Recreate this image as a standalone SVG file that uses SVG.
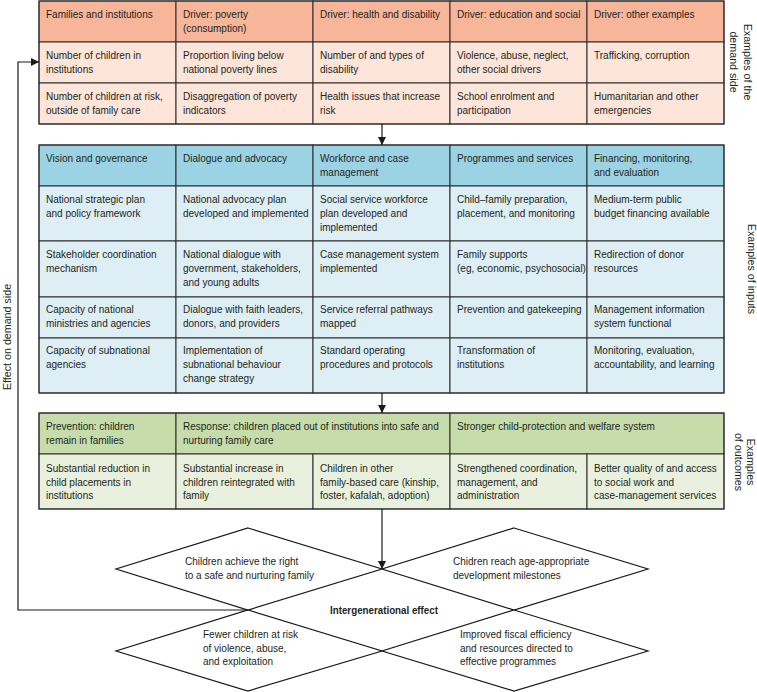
<svg xmlns="http://www.w3.org/2000/svg" width="757" height="692" viewBox="0 0 757 692">
<defs>
<style>
text{font-family:"Liberation Sans",Arial,sans-serif;font-size:10px;fill:#231f20}
.c rect{stroke:#2b2b2b;stroke-width:1}
.h1{fill:#f7b69a}.r1{fill:#fde5da}
.h2{fill:#9bd3e4}.r2{fill:#ddeef5}
.h3{fill:#c6ddab}.r3{fill:#e9f1de}
.frame{fill:none;stroke:#444;stroke-width:1.5}
.ln{fill:none;stroke:#1a1a1a;stroke-width:1.2}
.dm{fill:#fff;stroke:#1a1a1a;stroke-width:1.2}
.side{font-size:10.7px}
</style>
<marker id="ah" viewBox="0 0 10 10" refX="10" refY="5" markerWidth="8" markerHeight="8" markerUnits="userSpaceOnUse" orient="auto"><path d="M0,0L10,5L0,10z" fill="#1a1a1a"/></marker>
</defs>
<rect width="757" height="692" fill="#fff"/>

<!-- Demand side table -->
<g id="demand" class="c">
<g id="d-h1"><rect class="h1" x="39" y="1" width="137" height="41"/><text x="46" y="18">Families and institutions</text></g>
<g id="d-h2"><rect class="h1" x="176" y="1" width="137" height="41"/><text x="183" y="18">Driver: poverty<tspan x="183" dy="14">(consumption)</tspan></text></g>
<g id="d-h3"><rect class="h1" x="313" y="1" width="137" height="41"/><text x="320" y="18">Driver: health and disability</text></g>
<g id="d-h4"><rect class="h1" x="450" y="1" width="137" height="41"/><text x="457" y="18">Driver: education and social</text></g>
<g id="d-h5"><rect class="h1" x="587" y="1" width="137" height="41"/><text x="594" y="18">Driver: other examples</text></g>
<g id="d-11"><rect class="r1" x="39" y="42" width="137" height="41"/><text x="46" y="59">Number of children in<tspan x="46" dy="14">institutions</tspan></text></g>
<g id="d-12"><rect class="r1" x="176" y="42" width="137" height="41"/><text x="183" y="59">Proportion living below<tspan x="183" dy="14">national poverty lines</tspan></text></g>
<g id="d-13"><rect class="r1" x="313" y="42" width="137" height="41"/><text x="320" y="59">Number of and types of<tspan x="320" dy="14">disability</tspan></text></g>
<g id="d-14"><rect class="r1" x="450" y="42" width="137" height="41"/><text x="457" y="59">Violence, abuse, neglect,<tspan x="457" dy="14">other social drivers</tspan></text></g>
<g id="d-15"><rect class="r1" x="587" y="42" width="137" height="41"/><text x="594" y="59">Trafficking, corruption</text></g>
<g id="d-21"><rect class="r1" x="39" y="83" width="137" height="41"/><text x="46" y="100">Number of children at risk,<tspan x="46" dy="14">outside of family care</tspan></text></g>
<g id="d-22"><rect class="r1" x="176" y="83" width="137" height="41"/><text x="183" y="100">Disaggregation of poverty<tspan x="183" dy="14">indicators</tspan></text></g>
<g id="d-23"><rect class="r1" x="313" y="83" width="137" height="41"/><text x="320" y="100">Health issues that increase<tspan x="320" dy="14">risk</tspan></text></g>
<g id="d-24"><rect class="r1" x="450" y="83" width="137" height="41"/><text x="457" y="100">School enrolment and<tspan x="457" dy="14">participation</tspan></text></g>
<g id="d-25"><rect class="r1" x="587" y="83" width="137" height="41"/><text x="594" y="100">Humanitarian and other<tspan x="594" dy="14">emergencies</tspan></text></g>
<rect class="frame" x="39" y="1" width="685" height="123"/>
</g>

<!-- Inputs table -->
<g id="inputs" class="c">
<g id="i-h1"><rect class="h2" x="39" y="145" width="137" height="41"/><text x="46" y="162">Vision and governance</text></g>
<g id="i-h2"><rect class="h2" x="176" y="145" width="137" height="41"/><text x="183" y="162">Dialogue and advocacy</text></g>
<g id="i-h3"><rect class="h2" x="313" y="145" width="137" height="41"/><text x="320" y="162">Workforce and case<tspan x="320" dy="14">management</tspan></text></g>
<g id="i-h4"><rect class="h2" x="450" y="145" width="137" height="41"/><text x="457" y="162">Programmes and services</text></g>
<g id="i-h5"><rect class="h2" x="587" y="145" width="137" height="41"/><text x="594" y="162">Financing, monitoring,<tspan x="594" dy="14">and evaluation</tspan></text></g>

<g id="i-11"><rect class="r2" x="39" y="186" width="137" height="55"/><text x="46" y="203">National strategic plan<tspan x="46" dy="14">and policy framework</tspan></text></g>
<g id="i-12"><rect class="r2" x="176" y="186" width="137" height="55"/><text x="183" y="203">National advocacy plan<tspan x="183" dy="14">developed and implemented</tspan></text></g>
<g id="i-13"><rect class="r2" x="313" y="186" width="137" height="55"/><text x="320" y="203">Social service workforce<tspan x="320" dy="14">plan developed and</tspan><tspan x="320" dy="14">implemented</tspan></text></g>
<g id="i-14"><rect class="r2" x="450" y="186" width="137" height="55"/><text x="457" y="203">Child–family preparation,<tspan x="457" dy="14">placement, and monitoring</tspan></text></g>
<g id="i-15"><rect class="r2" x="587" y="186" width="137" height="55"/><text x="594" y="203">Medium-term public<tspan x="594" dy="14">budget financing available</tspan></text></g>

<g id="i-21"><rect class="r2" x="39" y="241" width="137" height="56"/><text x="46" y="258">Stakeholder coordination<tspan x="46" dy="14">mechanism</tspan></text></g>
<g id="i-22"><rect class="r2" x="176" y="241" width="137" height="56"/><text x="183" y="258">National dialogue with<tspan x="183" dy="14">government, stakeholders,</tspan><tspan x="183" dy="14">and young adults</tspan></text></g>
<g id="i-23"><rect class="r2" x="313" y="241" width="137" height="56"/><text x="320" y="258">Case management system<tspan x="320" dy="14">implemented</tspan></text></g>
<g id="i-24"><rect class="r2" x="450" y="241" width="137" height="56"/><text x="457" y="258">Family supports<tspan x="457" dy="14">(eg, economic, psychosocial)</tspan></text></g>
<g id="i-25"><rect class="r2" x="587" y="241" width="137" height="56"/><text x="594" y="258">Redirection of donor<tspan x="594" dy="14">resources</tspan></text></g>

<g id="i-31"><rect class="r2" x="39" y="297" width="137" height="41"/><text x="46" y="313">Capacity of national<tspan x="46" dy="14">ministries and agencies</tspan></text></g>
<g id="i-32"><rect class="r2" x="176" y="297" width="137" height="41"/><text x="183" y="313">Dialogue with faith leaders,<tspan x="183" dy="14">donors, and providers</tspan></text></g>
<g id="i-33"><rect class="r2" x="313" y="297" width="137" height="41"/><text x="320" y="313">Service referral pathways<tspan x="320" dy="14">mapped</tspan></text></g>
<g id="i-34"><rect class="r2" x="450" y="297" width="137" height="41"/><text x="457" y="313">Prevention and gatekeeping</text></g>
<g id="i-35"><rect class="r2" x="587" y="297" width="137" height="41"/><text x="594" y="313">Management information<tspan x="594" dy="14">system functional</tspan></text></g>

<g id="i-41"><rect class="r2" x="39" y="338" width="137" height="55"/><text x="46" y="354">Capacity of subnational<tspan x="46" dy="14">agencies</tspan></text></g>
<g id="i-42"><rect class="r2" x="176" y="338" width="137" height="55"/><text x="183" y="354">Implementation of<tspan x="183" dy="14">subnational behaviour</tspan><tspan x="183" dy="14">change strategy</tspan></text></g>
<g id="i-43"><rect class="r2" x="313" y="338" width="137" height="55"/><text x="320" y="354">Standard operating<tspan x="320" dy="14">procedures and protocols</tspan></text></g>
<g id="i-44"><rect class="r2" x="450" y="338" width="137" height="55"/><text x="457" y="354">Transformation of<tspan x="457" dy="14">institutions</tspan></text></g>
<g id="i-45"><rect class="r2" x="587" y="338" width="137" height="55"/><text x="594" y="354">Monitoring, evaluation,<tspan x="594" dy="14">accountability, and learning</tspan></text></g>
<rect class="frame" x="39" y="145" width="685" height="248"/>
</g>

<!-- Outcomes table -->
<g id="outcomes" class="c">
<g id="o-h1"><rect class="h3" x="39" y="413" width="137" height="41"/><text x="46" y="430">Prevention: children<tspan x="46" dy="14">remain in families</tspan></text></g>
<g id="o-h2"><rect class="h3" x="176" y="413" width="274" height="41"/><text x="183" y="430">Response: children placed out of institutions into safe and<tspan x="183" dy="14">nurturing family care</tspan></text></g>
<g id="o-h3"><rect class="h3" x="450" y="413" width="274" height="41"/><text x="457" y="430">Stronger child-protection and welfare system</text></g>
<g id="o-11"><rect class="r3" x="39" y="454" width="137" height="55"/><text x="46" y="472">Substantial reduction in<tspan x="46" dy="13.5">child placements in</tspan><tspan x="46" dy="13.5">institutions</tspan></text></g>
<g id="o-12"><rect class="r3" x="176" y="454" width="137" height="55"/><text x="183" y="472">Substantial increase in<tspan x="183" dy="13.5">children reintegrated with</tspan><tspan x="183" dy="13.5">family</tspan></text></g>
<g id="o-13"><rect class="r3" x="313" y="454" width="137" height="55"/><text x="320" y="472">Children in other<tspan x="320" dy="13.5">family-based care (kinship,</tspan><tspan x="320" dy="13.5">foster, kafalah, adoption)</tspan></text></g>
<g id="o-14"><rect class="r3" x="450" y="454" width="137" height="55"/><text x="457" y="472">Strengthened coordination,<tspan x="457" dy="13.5">management, and</tspan><tspan x="457" dy="13.5">administration</tspan></text></g>
<g id="o-15"><rect class="r3" x="587" y="454" width="137" height="55"/><text x="594" y="472">Better quality of and access<tspan x="594" dy="13.5">to social work and</tspan><tspan x="594" dy="13.5">case-management services</tspan></text></g>
<rect class="frame" x="39" y="413" width="685" height="96"/>
</g>

<!-- Diamonds -->
<g id="dia1"><path class="dm" d="M248,528L382,569L248,610L116,569Z"/><text x="185" y="565">Children achieve the right<tspan x="185" dy="13.5">to a safe and nurturing family</tspan></text></g>
<g id="dia2"><path class="dm" d="M514,528L648,569L514,610L382,569Z"/><text x="453" y="565">Chidren reach age-appropriate<tspan x="453" dy="13.5">development milestones</tspan></text></g>
<g id="dia3"><path class="dm" d="M248,610L382,651L248,691L116,651Z"/><text x="203" y="638">Fewer children at risk<tspan x="203" dy="13.5">of violence, abuse,</tspan><tspan x="203" dy="13.5">and exploitation</tspan></text></g>
<g id="dia4"><path class="dm" d="M514,610L648,651L514,691L382,651Z"/><text x="460" y="638">Improved fiscal efficiency<tspan x="460" dy="13.5">and resources directed to</tspan><tspan x="460" dy="13.5">effective programmes</tspan></text></g>
<g id="center"><text x="384" y="614" text-anchor="middle" font-weight="bold" textLength="108" lengthAdjust="spacingAndGlyphs">Intergenerational effect</text></g>

<!-- Connectors -->
<g id="connectors">
<path class="ln" d="M382,124V145" marker-end="url(#ah)"/>
<path class="ln" d="M382,393V413" marker-end="url(#ah)"/>
<path class="ln" d="M382,509V569" marker-end="url(#ah)"/>
<path class="ln" d="M248,610H18V62H39" marker-end="url(#ah)"/>
</g>

<!-- Side labels -->
<g id="labels">
<text class="side" transform="translate(10.5,337) rotate(-90)" text-anchor="middle">Effect on demand side</text>
<text class="side" transform="translate(743.5,62) rotate(90)" text-anchor="middle">Examples of the<tspan x="0" dy="13.5">demand side</tspan></text>
<text class="side" transform="translate(747.5,269) rotate(90)" text-anchor="middle">Examples of inputs</text>
<text class="side" transform="translate(747,462) rotate(90)" text-anchor="middle">Examples<tspan x="0" dy="12.5">of outcomes</tspan></text>
</g>
</svg>
